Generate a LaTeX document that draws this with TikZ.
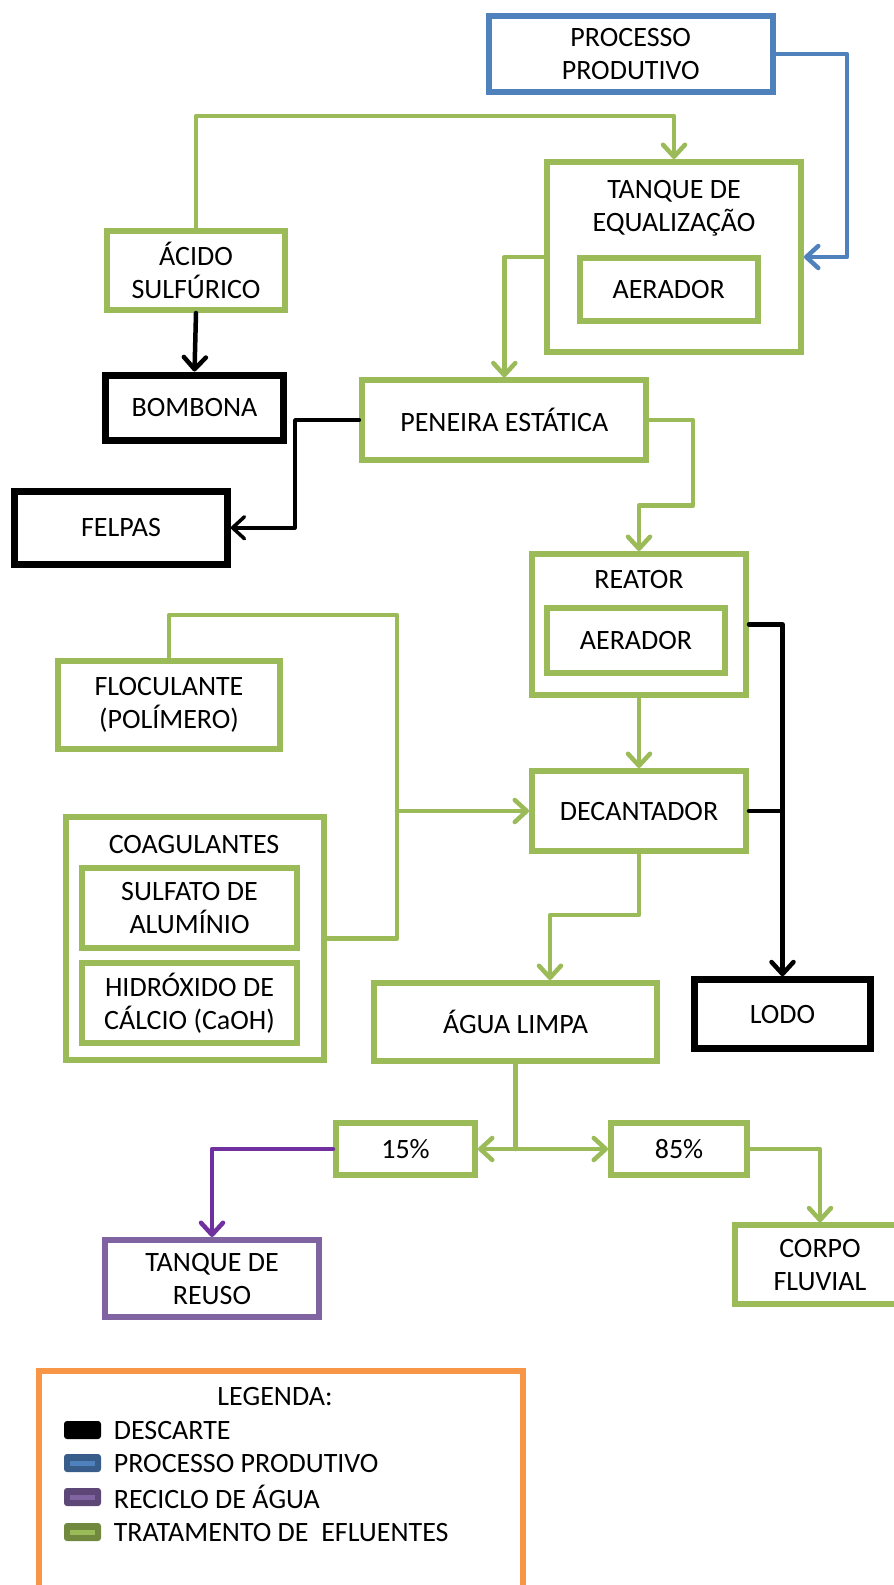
\documentclass[tikz,border=0pt]{standalone}
\usepackage{fontspec}
\setmainfont{Carlito}
\usetikzlibrary{arrows.meta}
\definecolor{G}{HTML}{9BBB59}
\definecolor{B}{HTML}{4F81BD}
\definecolor{Pbox}{HTML}{8064A2}
\definecolor{Pline}{HTML}{7030A0}
\definecolor{O}{HTML}{F79646}
\definecolor{Bdark}{HTML}{385D8A}
\definecolor{Pdark}{HTML}{5C4776}
\definecolor{Gdark}{HTML}{71893F}
\begin{document}
\begin{tikzpicture}[x=1pt,y=-1pt,
  font=\fontsize{28}{33}\selectfont,
  box/.style={draw, rectangle, line width=6pt, inner sep=0pt, align=center},
  gbox/.style={box, draw=G},
  kbox/.style={box, draw=black, line width=7pt},
  bbox/.style={box, draw=B},
  pbox/.style={box, draw=Pbox},
  title/.style={inner sep=0pt, align=center},
  conn/.style={line width=4.5pt, line join=round, line cap=round},
  arr/.style={-{Straight Barb[length=12pt,width=22pt,round]}},
  gconn/.style={conn, draw=G},
  kconn/.style={conn, draw=black},
  bconn/.style={conn, draw=B},
  pconn/.style={conn, draw=Pline},
  swatch/.style={rounded corners=3pt, minimum width=37pt, minimum height=18pt, inner sep=0pt},
  stripe/.style={minimum width=25pt, minimum height=5pt, inner sep=0pt},
  legtext/.style={inner sep=0pt, anchor=west}
]
\useasboundingbox (0,0) rectangle (894,1585);

% boxes
\node[bbox, minimum width=284.5pt, minimum height=76pt] (proc) at (630.75,54) {PROCESSO\\PRODUTIVO};
\node[gbox, minimum width=254pt, minimum height=190pt] (tank) at (674,257) {};
\node[title] (tankt) at (674,208) {TANQUE DE\\EQUALIZAÇÃO};
\node[gbox, minimum width=178pt, minimum height=63pt] (aer1) at (668.7,289.5) {AERADOR};
\node[gbox, minimum width=178pt, minimum height=79pt] (acid) at (196,270.5) {ÁCIDO\\SULFÚRICO};
\node[kbox, minimum width=178pt, minimum height=65.5pt] (bomb) at (194.5,407.75) {BOMBONA};
\node[gbox, minimum width=284pt, minimum height=79.4pt] (pen) at (504.3,420) {PENEIRA ESTÁTICA};
\node[kbox, minimum width=212.5pt, minimum height=73.5pt] (felpas) at (121,527.75) {FELPAS};
\node[gbox, minimum width=214pt, minimum height=140.5pt] (reator) at (639,624.25) {};
\node[title] (reatort) at (639,580) {REATOR};
\node[gbox, minimum width=178pt, minimum height=65pt] (aer2) at (636,640.5) {AERADOR};
\node[gbox, minimum width=214pt, minimum height=80pt] (dec) at (639,811) {DECANTADOR};
\node[kbox, minimum width=176pt, minimum height=68.5pt] (lodo) at (782.5,1014) {LODO};
\node[gbox, minimum width=283pt, minimum height=78pt] (agua) at (515.5,1022) {ÁGUA LIMPA};
\node[gbox, minimum width=139pt, minimum height=52pt] (p15) at (405.5,1149) {15\%};
\node[gbox, minimum width=136pt, minimum height=52pt] (p85) at (679,1149) {85\%};
\node[pbox, minimum width=214.5pt, minimum height=77pt] (reuso) at (212,1278.5) {TANQUE DE\\REUSO};
\node[gbox, minimum width=169.4pt, minimum height=79pt] (corpo) at (820,1264.8) {CORPO\\FLUVIAL};
\node[gbox, minimum width=222pt, minimum height=88pt] (floc) at (169,705) {FLOCULANTE\\(POLÍMERO)};
\node[gbox, minimum width=257.5pt, minimum height=242.5pt] (coag) at (194.75,938.25) {};
\node[title] (coagt) at (194,845) {COAGULANTES};
\node[gbox, minimum width=215pt, minimum height=79.7pt] (sulf) at (189.5,907.85) {SULFATO DE\\ALUMÍNIO};
\node[gbox, minimum width=215pt, minimum height=79.7pt] (hidr) at (189.5,1002.85) {HIDRÓXIDO DE\\CÁLCIO (CaOH)};

% junction coordinates
\coordinate (c1) at (674,116);
\coordinate (bR) at (847,257);
\coordinate (p1) at (693,505.7);
\coordinate (f1) at (295,527.75);
\coordinate (d1) at (550,915);
\coordinate (fc1) at (397,615);
\coordinate (j1) at (397,811);
\coordinate (j2) at (515.5,1149);

% connectors
\draw[bconn, arr] (proc.east) -| (bR) -- (tank.east);
\draw[gconn, arr] (acid.north) |- (c1) -- (tank.north);
\draw[kconn, arr] (acid.south) -- (bomb.north);
\draw[gconn, arr] (tank.west) -| (pen.north);
\draw[kconn, arr, line width=3.5pt] (pen.west) -| (f1) -- (felpas.east);
\draw[gconn, arr] (pen.east) -| (p1) -| (reator.north);
\draw[gconn, arr] (reator.south) -- (dec.north);
\draw[kconn, arr] (reator.east) -| (lodo.north);
\draw[kconn] (dec.east) -- (dec.east -| lodo.north);
\draw[gconn] (floc.north) |- (fc1) -- (j1);
\draw[gconn] (coag.east) -| (j1);
\draw[gconn, arr] (j1) -- (dec.west);
\draw[gconn, arr] (dec.south) |- (d1) -- (d1 |- agua.north);
\draw[gconn] (agua.south) -- (j2);
\draw[gconn, arr] (j2) -- (p15.east);
\draw[gconn, arr] (j2) -- (p85.west);
\draw[pconn, arr] (p15.west) -| (reuso.north);
\draw[gconn, arr] (p85.east) -| (corpo.north);

% legend
\node[draw=O, line width=6pt, minimum width=484pt, minimum height=240pt, inner sep=0pt] (leg) at (281,1491) {};
\node[title] (legt) at (275,1397) {LEGENDA:};
\node[swatch, fill=black] (s1) at (82.5,1430) {};
\node[swatch, fill=Bdark] (s2) at (82.5,1463) {};
\node[stripe, fill=B] (s2i) at (s2) {};
\node[swatch, fill=Pdark] (s3) at (82.5,1497) {};
\node[stripe, fill=Pbox] (s3i) at (s3) {};
\node[swatch, fill=Gdark] (s4) at (82.5,1532) {};
\node[stripe, fill=G] (s4i) at (s4) {};
\node[legtext] (l1) at (113.6,1430) {DESCARTE};
\node[legtext] (l2) at (113.6,1463) {PROCESSO PRODUTIVO};
\node[legtext] (l3) at (113.6,1497) {RECICLO DE ÁGUA};
\node[legtext] (l4) at (113.6,1532) {TRATAMENTO DE\ \ EFLUENTES};
\end{tikzpicture}
\end{document}
